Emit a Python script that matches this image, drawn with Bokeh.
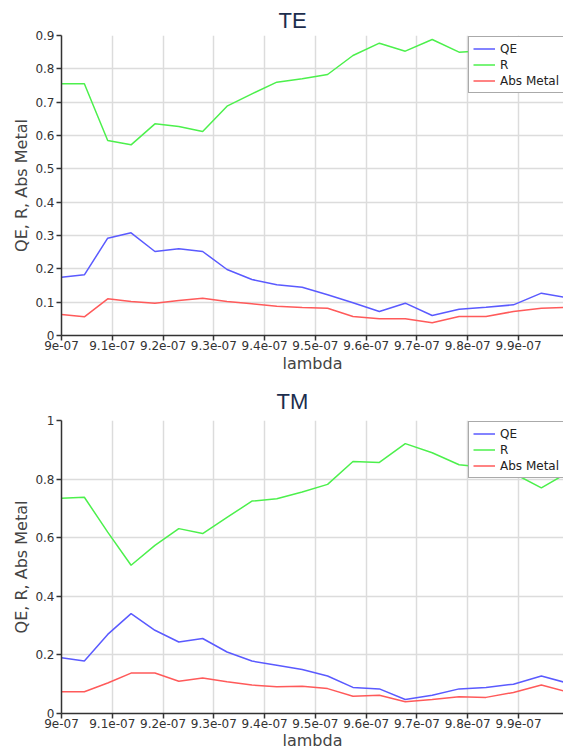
from bokeh.plotting import figure
from bokeh.models import Range1d, FixedTicker, Legend, LegendItem
from bokeh.layouts import column
from bokeh.embed import file_html
from bokeh.resources import INLINE

# wavelength samples (m)
lam = [9.000e-07, 9.045e-07, 9.091e-07, 9.137e-07, 9.184e-07, 9.231e-07, 9.278e-07,
       9.326e-07, 9.375e-07, 9.424e-07, 9.474e-07, 9.524e-07, 9.574e-07, 9.626e-07,
       9.677e-07, 9.730e-07, 9.783e-07, 9.836e-07, 9.890e-07, 9.945e-07, 1.000e-06]

te_qe = [0.175, 0.182, 0.292, 0.308, 0.252, 0.260, 0.252, 0.198, 0.168, 0.152, 0.145,
         0.122, 0.098, 0.072, 0.097, 0.060, 0.079, 0.085, 0.092, 0.127, 0.112]
te_r = [0.755, 0.755, 0.585, 0.572, 0.635, 0.627, 0.612, 0.688, 0.725, 0.760, 0.770,
        0.783, 0.840, 0.877, 0.853, 0.888, 0.850, 0.855, 0.840, 0.800, 0.820]
te_abs = [0.063, 0.056, 0.110, 0.102, 0.097, 0.105, 0.112, 0.102, 0.095, 0.088, 0.084,
          0.082, 0.057, 0.050, 0.050, 0.038, 0.057, 0.057, 0.072, 0.082, 0.085]

tm_qe = [0.190, 0.179, 0.270, 0.341, 0.284, 0.244, 0.256, 0.210, 0.179, 0.165, 0.150,
         0.128, 0.089, 0.084, 0.048, 0.062, 0.084, 0.089, 0.100, 0.128, 0.102]
tm_r = [0.735, 0.738, 0.619, 0.506, 0.574, 0.631, 0.614, 0.669, 0.725, 0.733, 0.756,
        0.782, 0.860, 0.857, 0.921, 0.890, 0.849, 0.840, 0.820, 0.770, 0.825]
tm_abs = [0.074, 0.074, 0.104, 0.138, 0.138, 0.110, 0.121, 0.108, 0.097, 0.091, 0.093,
          0.085, 0.059, 0.062, 0.040, 0.048, 0.057, 0.055, 0.072, 0.097, 0.072]

series_names = ["QE", "R", "Abs Metal"]

x_ticks = [9.0e-07, 9.1e-07, 9.2e-07, 9.3e-07, 9.4e-07, 9.5e-07, 9.6e-07, 9.7e-07,
           9.8e-07, 9.9e-07]
x_tick_labels = ["9e-07", "9.1e-07", "9.2e-07", "9.3e-07", "9.4e-07", "9.5e-07",
                 "9.6e-07", "9.7e-07", "9.8e-07", "9.9e-07"]
te_y_ticks = [0.0, 0.1, 0.2, 0.3, 0.4, 0.5, 0.6, 0.7, 0.8, 0.9]
te_y_labels = ["0", "0.1", "0.2", "0.3", "0.4", "0.5", "0.6", "0.7", "0.8", "0.9"]
tm_y_ticks = [0.0, 0.2, 0.4, 0.6, 0.8, 1.0]
tm_y_labels = ["0", "0.2", "0.4", "0.6", "0.8", "1"]

X_START = 9.0e-07
X_END = 9.9886e-07

BLUE = "#5a5aff"
GREEN = "#4cf04c"
RED = "#ff5a5a"
TXT = "DejaVu Sans"


def make_fig(title_text, qe, r, ab, y_ticks, y_labels, y_max, height, top_border,
             bottom_border, lambda_standoff, legend_y, title_offset, title_standoff):
    p = figure(width=563, height=height, output_backend="svg", toolbar_location=None,
               x_range=Range1d(X_START, X_END), y_range=Range1d(0, y_max),
               min_border_left=61, min_border_right=0, min_border_top=top_border,
               min_border_bottom=bottom_border, title=title_text)
    p.outline_line_color = None
    p.background_fill_color = "white"
    p.border_fill_color = "white"

    p.title.text_font = "Liberation Sans"
    p.title.text_font_size = "22px"
    p.title.text_font_style = "normal"
    p.title.text_color = "#1c2d4d"
    p.title.align = "left"
    p.title.offset = title_offset
    p.title.standoff = title_standoff

    for ax in (p.xaxis[0], p.yaxis[0]):
        ax.axis_line_color = "#333333"
        ax.axis_line_width = 1.5
        ax.major_tick_line_color = "#333333"
        ax.major_tick_line_width = 1.5
        ax.major_tick_in = 0
        ax.major_tick_out = 5
        ax.minor_tick_line_color = None
        ax.major_label_text_font = TXT
        ax.major_label_text_font_size = "12px"
        ax.major_label_text_color = "#333333"
        ax.axis_label_text_font = TXT
        ax.axis_label_text_font_size = "16px"
        ax.axis_label_text_font_style = "normal"
        ax.axis_label_text_color = "#444444"

    p.xaxis.ticker = FixedTicker(ticks=x_ticks)
    p.xaxis.major_label_overrides = dict(zip(x_ticks, x_tick_labels))
    p.xaxis.axis_label = "lambda"
    p.xaxis.major_label_standoff = 0
    p.xaxis.axis_label_standoff = lambda_standoff

    p.yaxis.ticker = FixedTicker(ticks=y_ticks)
    p.yaxis.major_label_overrides = dict(zip(y_ticks, y_labels))
    p.yaxis.axis_label = "QE, R, Abs Metal"
    p.yaxis.major_label_standoff = 2
    p.yaxis.axis_label_standoff = 1

    p.grid.grid_line_color = "#dcdcdc"
    p.grid.grid_line_width = 1.5

    r_qe = p.line(lam, qe, line_color=BLUE, line_width=1.5)
    r_r = p.line(lam, r, line_color=GREEN, line_width=1.5)
    r_ab = p.line(lam, ab, line_color=RED, line_width=1.5)

    legend = Legend(items=[LegendItem(label=series_names[0], renderers=[r_qe]),
                           LegendItem(label=series_names[1], renderers=[r_r]),
                           LegendItem(label=series_names[2], renderers=[r_ab])],
                    location=(407, legend_y))
    legend.border_line_color = "#555555"
    legend.border_line_width = 1.5
    legend.background_fill_color = "white"
    legend.background_fill_alpha = 1.0
    legend.label_text_font = TXT
    legend.label_text_font_size = "12px"
    legend.label_text_color = "#222222"
    legend.glyph_width = 22
    legend.glyph_height = 15
    legend.label_height = 15
    legend.label_standoff = 5
    legend.padding = 4
    legend.spacing = 1
    legend.margin = 0
    p.add_layout(legend)
    return p


p1 = make_fig("TE", te_qe, te_r, te_abs, te_y_ticks, te_y_labels, 0.9, 380, 35, 45, 1, 242, 217, 6)
p2 = make_fig("TM", tm_qe, tm_r, tm_abs, tm_y_ticks, tm_y_labels, 1.0, 372, 40, 39, 0, 235, 215, 13)

layout = column(p1, p2)
open("out.html", "w").write(file_html(layout, INLINE))
